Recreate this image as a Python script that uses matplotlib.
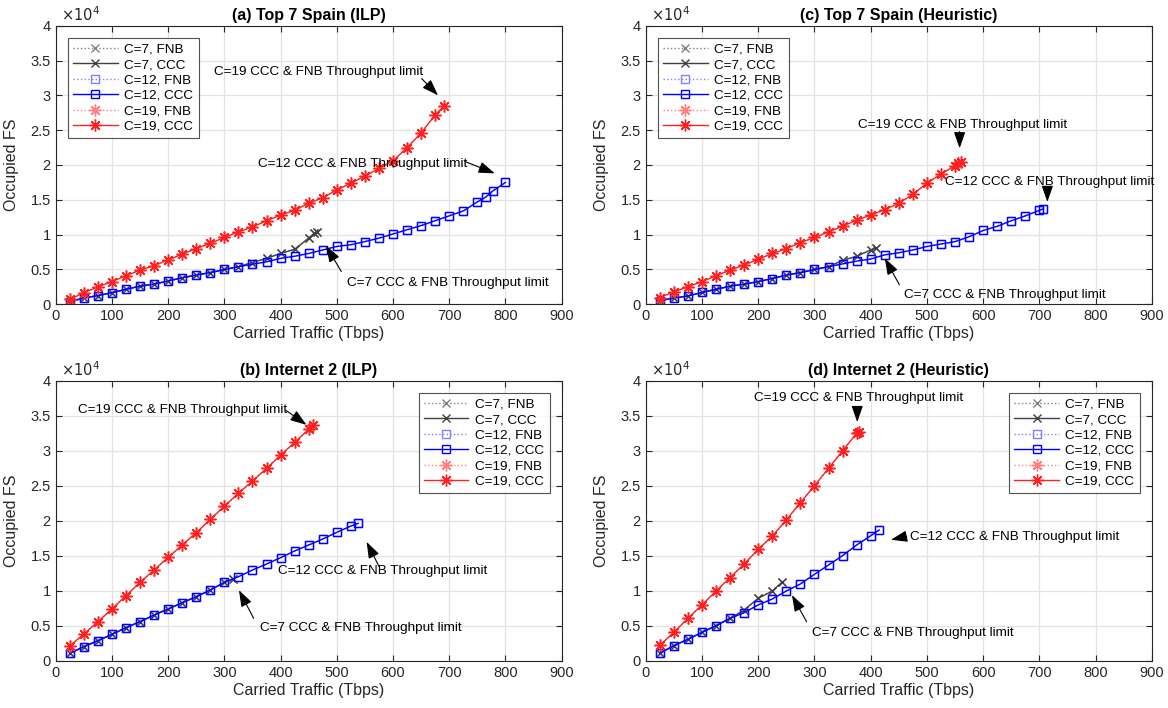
import matplotlib
matplotlib.use("Agg")
import matplotlib.pyplot as plt
from matplotlib.ticker import FuncFormatter

plt.rcParams['font.family'] = ['Liberation Sans', 'DejaVu Sans']

# ---------------- data (Occupied FS, raw counts) ----------------
# (a) Top 7 Spain (ILP)
a_x7 = [25, 50, 75, 100, 125, 150, 175, 200, 225, 250, 275, 300, 325, 350, 375, 400, 425, 450, 460, 465]
a_y7 = [400, 900, 1250, 1670, 2150, 2600, 2900, 3350, 3800, 4200, 4550, 5000, 5400, 6000, 6600, 7300, 7900, 9500, 10200, 10400]
a_x12 = [25, 50, 75, 100, 125, 150, 175, 200, 225, 250, 275, 300, 325, 350, 375, 400, 425, 450, 475, 500,
         525, 550, 575, 600, 625, 650, 675, 700, 725, 750, 765, 778, 800]
a_y12 = [400, 900, 1250, 1670, 2150, 2600, 2900, 3350, 3800, 4200, 4550, 5000, 5400, 5750, 6100, 6600, 6900, 7300, 7800, 8300,
         8560, 9000, 9500, 10100, 10700, 11300, 12000, 12700, 13400, 14700, 15400, 16300, 17500]
a_x19 = [25, 50, 75, 100, 125, 150, 175, 200, 225, 250, 275, 300, 325, 350, 375, 400, 425, 450, 475, 500,
         525, 550, 575, 600, 625, 650, 675, 690]
a_y19 = [700, 1670, 2500, 3250, 4100, 4900, 5550, 6360, 7200, 8000, 8760, 9600, 10400, 11100, 12000, 12800, 13500, 14500, 15300, 16400,
         17400, 18400, 19500, 20600, 22500, 24600, 27200, 28400]

# (c) Top 7 Spain (Heuristic)
c_x7 = [25, 50, 75, 100, 125, 150, 175, 200, 225, 250, 275, 300, 325, 350, 375, 400, 410]
c_y7 = [500, 900, 1200, 1700, 2150, 2600, 2900, 3250, 3700, 4200, 4550, 5000, 5400, 6300, 6900, 7800, 8100]
c_x12 = [25, 50, 75, 100, 125, 150, 175, 200, 225, 250, 275, 300, 325, 350, 375, 400, 425, 450, 475, 500,
         525, 550, 575, 600, 625, 650, 675, 700, 707]
c_y12 = [500, 900, 1200, 1700, 2150, 2600, 2900, 3250, 3700, 4200, 4550, 5000, 5400, 5800, 6200, 6500, 7100, 7400, 7800, 8300,
         8660, 9000, 9700, 10600, 11200, 12000, 12700, 13500, 13700]
c_x19 = [25, 50, 75, 100, 125, 150, 175, 200, 225, 250, 275, 300, 325, 350, 375, 400, 425, 450, 475, 500,
         525, 550, 555, 560]
c_y19 = [960, 1800, 2500, 3250, 4100, 4900, 5650, 6460, 7300, 8000, 8850, 9600, 10400, 11200, 12100, 12800, 13600, 14500, 15800, 17400,
         18700, 19900, 20300, 20500]

# (b) Internet 2 (ILP)
b_x7 = [25, 50, 75, 100, 125, 150, 175, 200, 225, 250, 275, 300, 315]
b_y7 = [1090, 2050, 2900, 3800, 4760, 5610, 6560, 7420, 8320, 9180, 10130, 11220, 11650]
b_x12 = [25, 50, 75, 100, 125, 150, 175, 200, 225, 250, 275, 300, 325, 350, 375, 400, 425, 450, 475, 500, 525, 538]
b_y12 = [1090, 2050, 2900, 3800, 4760, 5610, 6560, 7420, 8320, 9180, 10130, 11220, 12030, 12980, 13840, 14740,
         15700, 16550, 17410, 18360, 19260, 19640]
b_x19 = [25, 50, 75, 100, 125, 150, 175, 200, 225, 250, 275, 300, 325, 350, 375, 400, 425, 450, 458]
b_y19 = [2140, 3850, 5610, 7420, 9320, 11220, 12980, 14790, 16550, 18310, 20210, 22120, 23920, 25680, 27490,
         29390, 31200, 33060, 33680]

# (d) Internet 2 (Heuristic)
d_x7 = [25, 50, 75, 100, 125, 150, 175, 200, 225, 243]
d_y7 = [1100, 2190, 3090, 4090, 5040, 6090, 7280, 8940, 10000, 11300]
d_x12 = [25, 50, 75, 100, 125, 150, 175, 200, 225, 250, 275, 300, 325, 350, 375, 400, 415]
d_y12 = [1100, 2190, 3090, 4090, 5040, 6090, 6900, 8000, 8850, 9990, 10990, 12370, 13700, 15030, 16550, 17880, 18700]
d_x19 = [25, 50, 75, 100, 125, 150, 175, 200, 225, 250, 275, 300, 325, 350, 375, 379]
d_y19 = [2240, 4090, 6090, 8000, 9990, 11900, 13840, 15930, 17840, 20120, 22600, 25000, 27500, 30000, 32500, 32700]

titles = ['(a) Top 7 Spain (ILP)', '(c) Top 7 Spain (Heuristic)',
          '(b) Internet 2 (ILP)', '(d) Internet 2 (Heuristic)']
legend_labels = ['C=7, FNB', 'C=7, CCC', 'C=12, FNB', 'C=12, CCC', 'C=19, FNB', 'C=19, CCC']
x_ticks = [0, 100, 200, 300, 400, 500, 600, 700, 800, 900]
y_ticks = [0, 5000, 10000, 15000, 20000, 25000, 30000, 35000, 40000]
ann_text = ['C=19 CCC & FNB Throughput limit', 'C=12 CCC & FNB Throughput limit',
            'C=7 CCC & FNB Throughput limit']

panels = [
    (a_x7, a_y7, a_x12, a_y12, a_x19, a_y19),
    (c_x7, c_y7, c_x12, c_y12, c_x19, c_y19),
    (b_x7, b_y7, b_x12, b_y12, b_x19, b_y19),
    (d_x7, d_y7, d_x12, d_y12, d_x19, d_y19),
]

# annotation layout: (text_xy, arrow_tail, arrow_head) per curve label
ann_layout = [
    [((282, 33400), (651, 32400), (680, 30000)),
     ((359, 20200), (728, 20500), (781, 18800)),
     ((519, 3000), (508, 4700), (481, 8400))],
    [((378, 25800), (558, 24800), (558, 22400)),
     ((532, 17500), (714, 16600), (714, 14700)),
     ((460, 1300), (451, 2800), (425, 6600))],
    [((40, 35800), (409, 35800), (446, 33700)),
     ((396, 12900), (575, 13500), (553, 17000)),
     ((363, 4650), (352, 6100), (326, 10100))],
    [((193, 37500), (376, 36300), (376, 34100)),
     ((470, 17700), (464, 17800), (436, 17300)),
     ((295, 4000), (286, 5600), (260, 9400))],
]
legend_loc = ['upper left', 'upper left', 'upper right', 'upper right']

W, H = 1168, 708
fig = plt.figure(figsize=(W / 100, H / 100), dpi=100)
rects = [
    (55.7, 25.7, 561.7, 304.3),
    (645.7, 25.7, 1152, 304.3),
    (55.7, 380.7, 561.7, 661),
    (645.7, 380.7, 1152, 661),
]

tc = '#262626'
marker_ast = (8, 2, 0)
for i, (r, data) in enumerate(zip(rects, panels)):
    l, t, rr, b = r
    ax = fig.add_axes([l / W, 1 - b / H, (rr - l) / W, (b - t) / H])
    x7, y7, x12, y12, x19, y19 = data
    ax.plot(x7, y7, ls=':', color='#808080', marker='x', ms=6, mfc='none', lw=1.0, label=legend_labels[0])
    ax.plot(x7, y7, ls='-', color='#404040', marker='x', ms=6, mfc='none', lw=1.0, label=legend_labels[1])
    ax.plot(x12, y12, ls=':', color='#8080ff', marker='s', ms=5.5, mfc='none', lw=1.0, label=legend_labels[2])
    ax.plot(x12, y12, ls='-', color='#0000ff', marker='s', ms=5.5, mfc='none', lw=1.0, label=legend_labels[3])
    ax.plot(x19, y19, ls=':', color='#ff8080', marker=marker_ast, ms=8.5, lw=1.0, label=legend_labels[4])
    ax.plot(x19, y19, ls='-', color='#ff2020', marker=marker_ast, ms=8.5, lw=1.0, label=legend_labels[5])

    ax.set_xlim(0, 900)
    ax.set_ylim(0, 40000)
    ax.set_xticks(x_ticks)
    ax.set_yticks(y_ticks)
    ax.yaxis.set_major_formatter(FuncFormatter(lambda v, p: ('%g' % (v / 1e4))))
    ax.tick_params(direction='in', top=True, right=True, labelsize=10.5, colors=tc, length=4, width=0.8)
    ax.grid(True, color='#e3e3e3', lw=0.9)
    ax.set_axisbelow(True)
    for s in ax.spines.values():
        s.set_color(tc)
        s.set_linewidth(0.8)
    ax.set_xlabel('Carried Traffic (Tbps)', fontsize=11.5, color=tc, labelpad=2)
    ax.set_ylabel('Occupied FS', fontsize=11.5, color=tc, labelpad=8)
    ax.set_title(titles[i], fontsize=11.5, fontweight='bold', color='black', pad=4)
    ax.text(0.01, 1.005, r'$\times10^4$', transform=ax.transAxes, fontsize=10.5, color=tc,
            ha='left', va='bottom')

    for txt, (txy, tail, head) in zip(ann_text, ann_layout[i]):
        ax.text(txy[0], txy[1], txt, fontsize=9.7, color='black', ha='left', va='center')
        ax.annotate('', xy=head, xytext=tail,
                    arrowprops=dict(arrowstyle='-|>,head_length=1.0,head_width=0.35',
                                    color='black', lw=0.8, shrinkA=0, shrinkB=0))

    leg = ax.legend(loc=legend_loc[i], fontsize=9.7, frameon=True, fancybox=False,
                    edgecolor='#262626', borderaxespad=0.9, handlelength=3.3,
                    labelspacing=0.22, borderpad=0.4, handletextpad=0.5)
    leg.get_frame().set_linewidth(0.8)

fig.savefig('out.png', dpi=100)
